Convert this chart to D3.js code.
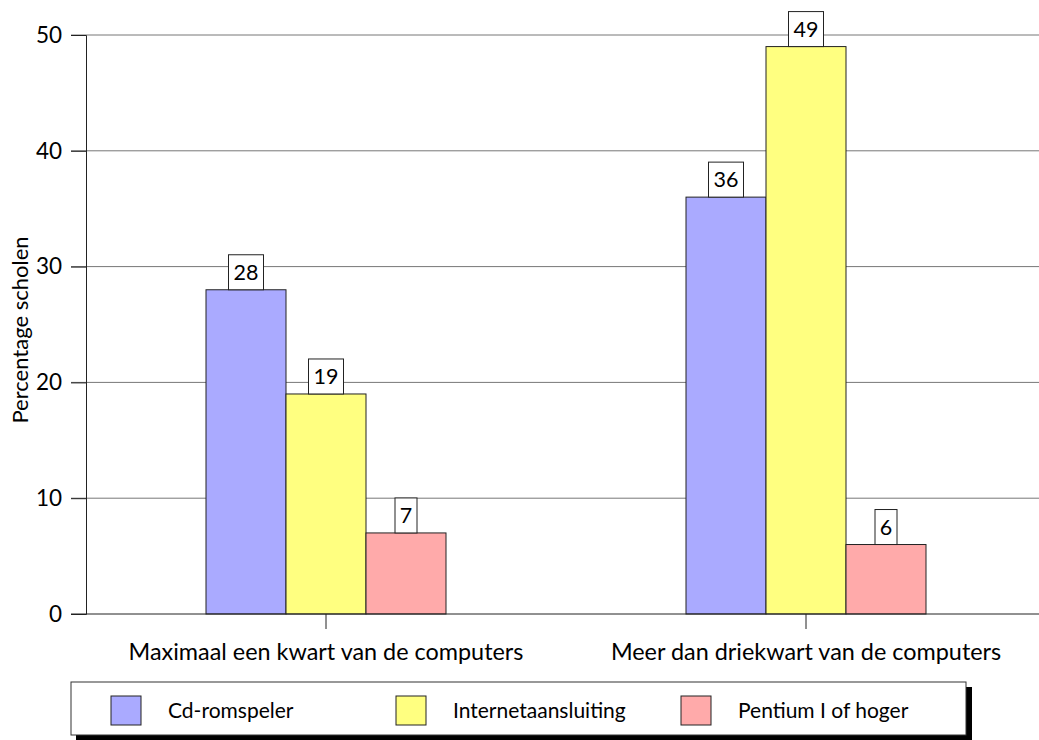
<!DOCTYPE html>
<html>
<head>
<meta charset="utf-8">
<script src="https://cdn.jsdelivr.net/npm/d3@7"></script>
<style>
  html, body { margin: 0; padding: 0; background: #fff; }
  svg { display: block; font-family: "Lato", "Open Sans", sans-serif; }
</style>
</head>
<body>
<svg id="chart" width="1039" height="740"></svg>
<script>
// Share of schools (%) per equipment type, by computer group
const categories = ["Maximaal een kwart van de computers", "Meer dan driekwart van de computers"];
const seriesNames = ["Cd-romspeler", "Internetaansluiting", "Pentium I of hoger"];
const cdRom = [28, 36];
const internet = [19, 49];
const pentium = [7, 6];
const yTicks = [0, 10, 20, 30, 40, 50];
const yTitle = "Percentage scholen";
const colors = ["#aaaaff", "#ffff80", "#ffaaaa"];

const series = [cdRom, internet, pentium];

const svg = d3.select("#chart");
const plotLeft = 86, plotRight = 1046, plotTop = 35, plotBottom = 614;

const x0 = d3.scaleBand().domain(categories).range([plotLeft, plotRight]).paddingInner(0).paddingOuter(0);
const x1 = d3.scaleBand().domain(seriesNames).range([0, 240]);
const y = d3.scaleLinear().domain([0, 50]).range([plotBottom, plotTop]);

// gridlines
svg.append("g").selectAll("line").data(yTicks.filter(t => t > 0)).join("line")
  .attr("x1", 71).attr("x2", 1039)
  .attr("y1", d => y(d)).attr("y2", d => y(d))
  .attr("stroke", "#777").attr("stroke-width", 1);

// y axis
const yAxis = d3.axisLeft(y).tickValues(yTicks).tickSize(15).tickPadding(9).tickFormat(d3.format("d"));
const gy = svg.append("g").attr("transform", `translate(${plotLeft},0)`).call(yAxis);
gy.select(".domain").attr("stroke", "#222");
gy.selectAll(".tick line").attr("stroke", "#222");
gy.selectAll(".tick text").attr("font-size", 22.5).attr("fill", "#000").attr("font-family", "Lato, sans-serif");

// bars
const groups = svg.append("g").selectAll("g").data(categories).join("g")
  .attr("transform", d => `translate(${x0(d) + (x0.bandwidth() - 240) / 2},0)`);

groups.each(function(cat, ci) {
  const g = d3.select(this);
  seriesNames.forEach((s, si) => {
    const v = series[si][ci];
    g.append("rect")
      .attr("x", x1(s)).attr("width", x1.bandwidth())
      .attr("y", y(v)).attr("height", y(0) - y(v))
      .attr("fill", colors[si]).attr("stroke", "#222").attr("stroke-width", 1);
  });
});

// baseline
svg.append("line").attr("x1", 71).attr("x2", 1039).attr("y1", plotBottom).attr("y2", plotBottom)
  .attr("stroke", "#222");

// x axis ticks & labels
const xg = svg.append("g").selectAll("g").data(categories).join("g")
  .attr("transform", d => `translate(${x0(d) + x0.bandwidth() / 2},${plotBottom})`);
xg.append("line").attr("y1", 0).attr("y2", 15).attr("stroke", "#222");
xg.append("text").attr("y", 46).attr("text-anchor", "middle").attr("font-size", 23.4)
  .attr("fill", "#000").text(d => d);

// value labels
groups.each(function(cat, ci) {
  const g = d3.select(this);
  seriesNames.forEach((s, si) => {
    const v = series[si][ci];
    const cx = x1(s) + x1.bandwidth() / 2;
    const w = String(v).length > 1 ? 35 : 22;
    g.append("rect").attr("x", cx - w / 2).attr("y", y(v) - 35).attr("width", w).attr("height", 35)
      .attr("fill", "#fff").attr("stroke", "#222").attr("stroke-width", 1);
    g.append("text").attr("x", cx).attr("y", y(v) - 10).attr("text-anchor", "middle")
      .attr("font-size", 21.5).attr("fill", "#000").text(v);
  });
});

// y title
svg.append("text").attr("transform", "translate(28,330) rotate(-90)")
  .attr("text-anchor", "middle").attr("font-size", 22).attr("fill", "#000").text(yTitle);

// legend
const lg = svg.append("g");
lg.append("rect").attr("x", 76).attr("y", 687).attr("width", 896).attr("height", 53).attr("fill", "#000");
lg.append("rect").attr("x", 71).attr("y", 682).attr("width", 895).attr("height", 53)
  .attr("fill", "#fff").attr("stroke", "#333").attr("stroke-width", 1);
const legendX = [111, 396, 681];
seriesNames.forEach((s, i) => {
  lg.append("rect").attr("x", legendX[i]).attr("y", 696).attr("width", 30).attr("height", 29)
    .attr("fill", colors[i]).attr("stroke", "#222");
  lg.append("text").attr("x", legendX[i] + 57).attr("y", 718).attr("font-size", 21)
    .attr("fill", "#000").text(s);
});
</script>
</body>
</html>
